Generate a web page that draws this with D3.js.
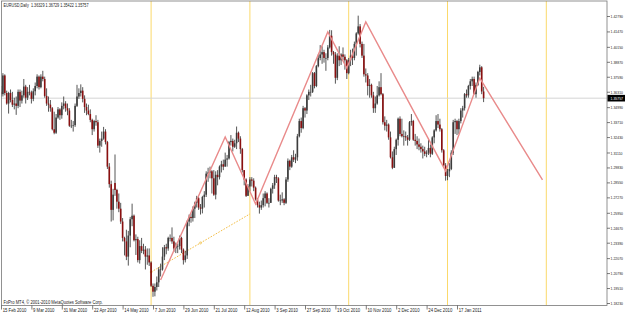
<!DOCTYPE html>
<html>
<head>
<meta charset="utf-8">
<script src="https://cdn.jsdelivr.net/npm/d3@7"></script>
<style>
body { margin: 0; background: #fff; }
svg { display: block; }
text { font-family: "Liberation Sans", Arial, sans-serif; }
</style>
</head>
<body>
<svg width="625" height="314"></svg>
<script>
// EURUSD daily, 15 Feb 2010 .. 4 Feb 2011 (one bar per weekday)
var opens = [
  1.3630,1.3610,1.3770,1.3620,1.3530, 1.3620,1.3560,1.3520,1.3530,1.3510,
  1.3630,1.3555,1.3600,1.3675,1.3580, 1.3630,1.3625,1.3570,1.3635,1.3680,
  1.3760,1.3670,1.3760,1.3740,1.3595, 1.3530,1.3520,1.3490,1.3310,1.3280,
  1.3410,1.3480,1.3430,1.3510,1.3530, 1.3490,1.3470,1.3340,1.3340,1.3345,
  1.3510,1.3590,1.3620,1.3640,1.3570, 1.3500,1.3470,1.3440,1.3390,1.3310,
  1.3380,1.3370,1.3170,1.3210,1.3230, 1.3290,1.3200,1.2990,1.2840,1.2620,
  1.2850,1.2790,1.2690,1.2630,1.2520, 1.2380,1.2350,1.2220,1.2400,1.2540,
  1.2570,1.2360,1.2370,1.2190,1.2310, 1.2270,1.2280,1.2220,1.2230,1.2170,
  1.1970,1.1920,1.1960,1.2000,1.2110, 1.2110,1.2220,1.2300,1.2290,1.2380,
  1.2380,1.2350,1.2290,1.2310,1.2310, 1.2380,1.2280,1.2190,1.2230,1.2520,
  1.2560,1.2550,1.2630,1.2680,1.2720, 1.2640,1.2630,1.2730,1.2750,1.2930,
  1.2940,1.2950,1.2890,1.2750,1.2920, 1.2900,1.2990,1.3010,1.2990,1.3050,
  1.3060,1.3200,1.3210,1.3160,1.3190, 1.3280,1.3230,1.3140,1.2960,1.2880,
  1.2740,1.2820,1.2880,1.2870,1.2810, 1.2710,1.2660,1.2640,1.2660,1.2720,
  1.2760,1.2680,1.2680,1.2800,1.2830, 1.2900,1.2890,1.2700,1.2700,1.2710,
  1.2680,1.2880,1.3040,1.2990,1.3070, 1.3050,1.3070,1.3250,1.3380,1.3320,
  1.3490,1.3470,1.3600,1.3630,1.3630, 1.3790,1.3680,1.3850,1.3920,1.3950,
  1.3970,1.3920,1.3920,1.4010,1.4110, 1.3970,1.3950,1.3750,1.3940,1.3900,
  1.3950,1.3930,1.3900,1.3790,1.3900, 1.3940,1.3920,1.4040,1.4130,1.4190,
  1.4040,1.3940,1.3780,1.3770,1.3680, 1.3690,1.3600,1.3490,1.3530,1.3600,
  1.3670,1.3610,1.3370,1.3340,1.3350, 1.3240,1.3070,1.2980,1.3140,1.3220,
  1.3400,1.3270,1.3250,1.3250,1.3240, 1.3220,1.3370,1.3380,1.3220,1.3210,
  1.3180,1.3160,1.3140,1.3120,1.3100, 1.3110,1.3150,1.3100,1.3240,1.3300,
  1.3380,1.3350,1.3310,1.3130,1.3000, 1.2910,1.2950,1.2970,1.3110,1.3370,
  1.3380,1.3310,1.3380,1.3470,1.3490, 1.3610,1.3600,1.3680,1.3720,1.3740,
  1.3610,1.3690,1.3800,1.3840,1.36329
];
var highs = [
  1.3680,1.3790,1.3780,1.3640,1.3630, 1.3650,1.3630,1.3580,1.3590,1.3650,
  1.3650,1.3640,1.3740,1.3690,1.3670, 1.3690,1.3640,1.3660,1.3710,1.3780,
  1.3770,1.3780,1.3810,1.3760,1.3660, 1.3590,1.3560,1.3500,1.3460,1.3440,
  1.3500,1.3490,1.3540,1.3590,1.3550, 1.3530,1.3490,1.3390,1.3380,1.3530,
  1.3690,1.3660,1.3694,1.3670,1.3600, 1.3530,1.3520,1.3480,1.3400,1.3390,
  1.3430,1.3390,1.3230,1.3290,1.3330, 1.3310,1.3210,1.3020,1.2870,1.2800,
  1.3094,1.2800,1.2760,1.2680,1.2550, 1.2390,1.2450,1.2440,1.2560,1.2673,
  1.2580,1.2410,1.2390,1.2360,1.2380, 1.2330,1.2310,1.2290,1.2290,1.2180,
  1.1990,1.1990,1.2050,1.2130,1.2160, 1.2300,1.2320,1.2330,1.2390,1.2410,
  1.2470,1.2390,1.2340,1.2330,1.2400, 1.2390,1.2290,1.2270,1.2530,1.2580,
  1.2590,1.2650,1.2690,1.2740,1.2730, 1.2670,1.2740,1.2780,1.2950,1.2980,
  1.2990,1.2960,1.2960,1.2950,1.2960, 1.3000,1.3040,1.3050,1.3110,1.3090,
  1.3210,1.3260,1.3230,1.3220,1.3333, 1.3290,1.3250,1.3150,1.2960,1.2890,
  1.2840,1.2900,1.2900,1.2890,1.2820, 1.2720,1.2690,1.2700,1.2760,1.2780,
  1.2770,1.2720,1.2810,1.2850,1.2920, 1.2920,1.2900,1.2750,1.2770,1.2720,
  1.2900,1.3060,1.3050,1.3090,1.3130, 1.3100,1.3270,1.3400,1.3410,1.3510,
  1.3500,1.3610,1.3650,1.3690,1.3800, 1.3800,1.3860,1.3950,1.4030,1.4020,
  1.3990,1.3960,1.4030,1.4160,1.4157, 1.3980,1.3970,1.3960,1.4020,1.3960,
  1.4010,1.3950,1.3910,1.3920,1.3990, 1.4000,1.4060,1.4140,1.4282,1.4210,
  1.4060,1.4040,1.3830,1.3790,1.3740, 1.3700,1.3630,1.3590,1.3680,1.3720,
  1.3790,1.3620,1.3420,1.3390,1.3360, 1.3290,1.3120,1.3160,1.3230,1.3410,
  1.3420,1.3400,1.3300,1.3290,1.3260, 1.3380,1.3440,1.3390,1.3270,1.3250,
  1.3230,1.3190,1.3170,1.3160,1.3130, 1.3230,1.3180,1.3250,1.3310,1.3430,
  1.3440,1.3400,1.3320,1.3140,1.3020, 1.2970,1.3020,1.3130,1.3390,1.3400,
  1.3390,1.3400,1.3490,1.3510,1.3620, 1.3650,1.3690,1.3740,1.3760,1.3760,
  1.3710,1.3810,1.3862,1.3850,1.36729
];
var lows = [
  1.3590,1.3590,1.3600,1.3520,1.3444, 1.3540,1.3500,1.3480,1.3433,1.3490,
  1.3500,1.3530,1.3580,1.3530,1.3560, 1.3600,1.3530,1.3550,1.3600,1.3660,
  1.3650,1.3660,1.3720,1.3580,1.3510, 1.3460,1.3460,1.3300,1.3267,1.3270,
  1.3400,1.3390,1.3400,1.3480,1.3460, 1.3430,1.3330,1.3320,1.3290,1.3330,
  1.3500,1.3570,1.3590,1.3540,1.3450, 1.3430,1.3430,1.3370,1.3260,1.3290,
  1.3340,1.3150,1.3110,1.3160,1.3220, 1.3180,1.2970,1.2810,1.2520,1.2530,
  1.2740,1.2630,1.2600,1.2500,1.2350, 1.2230,1.2190,1.2143,1.2300,1.2480,
  1.2350,1.2234,1.2170,1.2160,1.2250, 1.2240,1.2110,1.2150,1.2140,1.1960,
  1.1876,1.1880,1.1930,1.1960,1.2050, 1.2100,1.2190,1.2240,1.2270,1.2350,
  1.2330,1.2260,1.2250,1.2250,1.2280, 1.2250,1.2152,1.2170,1.2200,1.2480,
  1.2510,1.2520,1.2550,1.2640,1.2620, 1.2580,1.2590,1.2640,1.2730,1.2860,
  1.2890,1.2760,1.2740,1.2710,1.2830, 1.2880,1.2940,1.2960,1.2990,1.2990,
  1.3050,1.3170,1.3120,1.3150,1.3140, 1.3200,1.3100,1.2940,1.2830,1.2730,
  1.2740,1.2780,1.2820,1.2780,1.2700, 1.2640,1.2588,1.2620,1.2640,1.2650,
  1.2670,1.2640,1.2680,1.2760,1.2800, 1.2850,1.2690,1.2660,1.2680,1.2660,
  1.2670,1.2860,1.2960,1.2980,1.3030, 1.3020,1.3040,1.3240,1.3280,1.3310,
  1.3410,1.3440,1.3560,1.3590,1.3620, 1.3660,1.3670,1.3840,1.3900,1.3870,
  1.3880,1.3810,1.3900,1.4000,1.3940, 1.3870,1.3700,1.3730,1.3850,1.3860,
  1.3900,1.3820,1.3740,1.3780,1.3850, 1.3860,1.3900,1.3940,1.4120,1.4010,
  1.3920,1.3760,1.3710,1.3600,1.3580, 1.3580,1.3450,1.3450,1.3520,1.3590,
  1.3600,1.3350,1.3300,1.3290,1.3220, 1.3060,1.2968,1.2980,1.3090,1.3170,
  1.3250,1.3240,1.3170,1.3210,1.3170, 1.3210,1.3340,1.3210,1.3170,1.3140,
  1.3130,1.3110,1.3060,1.3080,1.3070, 1.3090,1.3070,1.3090,1.3190,1.3290,
  1.3320,1.3290,1.3110,1.2990,1.2870, 1.2874,1.2900,1.2960,1.3090,1.3270,
  1.3260,1.3270,1.3360,1.3410,1.3470, 1.3580,1.3580,1.3650,1.3680,1.3610,
  1.3580,1.3680,1.3770,1.3610,1.35422
];
var closes = [
  1.3610,1.3770,1.3620,1.3530,1.3620, 1.3560,1.3520,1.3530,1.3510,1.3630,
  1.3555,1.3600,1.3675,1.3580,1.3630, 1.3625,1.3570,1.3635,1.3680,1.3760,
  1.3670,1.3760,1.3740,1.3595,1.3530, 1.3520,1.3490,1.3310,1.3280,1.3410,
  1.3480,1.3430,1.3510,1.3530,1.3490, 1.3470,1.3340,1.3340,1.3345,1.3510,
  1.3590,1.3620,1.3640,1.3570,1.3500, 1.3470,1.3440,1.3390,1.3310,1.3380,
  1.3370,1.3170,1.3210,1.3230,1.3290, 1.3200,1.2990,1.2840,1.2620,1.2750,
  1.2790,1.2690,1.2630,1.2520,1.2380, 1.2350,1.2220,1.2400,1.2540,1.2570,
  1.2360,1.2370,1.2190,1.2310,1.2270, 1.2280,1.2220,1.2230,1.2170,1.1970,
  1.1920,1.1960,1.2000,1.2110,1.2110, 1.2220,1.2300,1.2290,1.2380,1.2380,
  1.2350,1.2290,1.2310,1.2310,1.2380, 1.2280,1.2190,1.2230,1.2520,1.2560,
  1.2550,1.2630,1.2680,1.2720,1.2640, 1.2630,1.2730,1.2750,1.2930,1.2940,
  1.2950,1.2890,1.2750,1.2920,1.2900, 1.2990,1.3010,1.2990,1.3050,1.3060,
  1.3200,1.3210,1.3160,1.3190,1.3280, 1.3230,1.3140,1.2960,1.2880,1.2740,
  1.2820,1.2880,1.2870,1.2810,1.2710, 1.2660,1.2640,1.2660,1.2720,1.2760,
  1.2680,1.2680,1.2800,1.2830,1.2900, 1.2890,1.2700,1.2700,1.2710,1.2680,
  1.2880,1.3040,1.2990,1.3070,1.3050, 1.3070,1.3250,1.3380,1.3320,1.3490,
  1.3470,1.3600,1.3630,1.3630,1.3790, 1.3680,1.3850,1.3920,1.3950,1.3970,
  1.3920,1.3920,1.4010,1.4110,1.3970, 1.3950,1.3750,1.3940,1.3900,1.3950,
  1.3930,1.3900,1.3790,1.3900,1.3940, 1.3920,1.4040,1.4130,1.4190,1.4040,
  1.3940,1.3780,1.3770,1.3680,1.3690, 1.3600,1.3490,1.3530,1.3600,1.3670,
  1.3610,1.3370,1.3340,1.3350,1.3240, 1.3070,1.2980,1.3140,1.3220,1.3400,
  1.3270,1.3250,1.3250,1.3240,1.3220, 1.3370,1.3380,1.3220,1.3210,1.3180,
  1.3160,1.3140,1.3120,1.3100,1.3110, 1.3150,1.3100,1.3240,1.3300,1.3380,
  1.3350,1.3310,1.3130,1.3000,1.2910, 1.2950,1.2970,1.3110,1.3370,1.3380,
  1.3310,1.3380,1.3470,1.3490,1.3610, 1.3600,1.3680,1.3720,1.3740,1.3610,
  1.3690,1.3800,1.3840,1.3633,1.35757
];

var dateLabels = ["15 Feb 2010", "9 Mar 2010", "31 Mar 2010", "22 Apr 2010", "14 May 2010",
  "7 Jun 2010", "29 Jun 2010", "21 Jul 2010", "12 Aug 2010", "3 Sep 2010", "27 Sep 2010",
  "19 Oct 2010", "10 Nov 2010", "2 Dec 2010", "24 Dec 2010", "17 Jan 2011"];
var labelStep = 16; // bars between date labels
var priceTicks = [1.42790, 1.41470, 1.40150, 1.38870, 1.37590, 1.36310, 1.34990, 1.33710,
  1.32430, 1.31110, 1.29830, 1.28550, 1.27270, 1.25950, 1.24670, 1.23390, 1.22070,
  1.20790, 1.19510, 1.18230];
var lastBar = ["1.36329", "1.36729", "1.35422", "1.35757"];
var bidPrice = 1.35757;

// drawn objects: [bar, price]
var zigzag = [[84, 1.2020], [118, 1.3244], [134, 1.2670], [172, 1.4142], [182, 1.3834],
  [192, 1.4228], [234, 1.2953], [252, 1.3748], [285, 1.2876]];
var dotted = [[79, 1.2088], [105, 1.2337], [131, 1.2585]];
var cycleBars = [79, 131, 183, 235, 287];

var svg = d3.select("svg");
var W = 625;
var pLeft = 1, pRight = 607, pTop = 1, pBottom = 305.5;

var x = d3.scaleLinear().domain([0, 287]).range([1, 1 + 287 * 1.9]);
var y = d3.scaleLinear().domain([1.18230, 1.42790]).range([303, 16]);

svg.append("defs").append("clipPath").attr("id", "plot")
  .append("rect").attr("x", pLeft).attr("y", pTop)
  .attr("width", pRight - pLeft).attr("height", pBottom - pTop);

var plot = svg.append("g").attr("clip-path", "url(#plot)");

// vertical cycle lines
plot.selectAll(".cyc").data(cycleBars).enter().append("line")
  .attr("x1", function(d) { return x(d); }).attr("x2", function(d) { return x(d); })
  .attr("y1", pTop).attr("y2", pBottom)
  .attr("stroke", "#fbd96b").attr("stroke-width", 1);

// bid line
plot.append("line")
  .attr("x1", pLeft).attr("x2", pRight)
  .attr("y1", y(bidPrice)).attr("y2", y(bidPrice))
  .attr("stroke", "#d4d4d4").attr("stroke-width", 1);

// dotted line (under the candles)
var pxLine = d3.line().x(function(d) { return x(d[0]); }).y(function(d) { return y(d[1]); });
plot.append("path")
  .attr("d", pxLine(dotted))
  .attr("fill", "none").attr("stroke", "#f2bd45").attr("stroke-width", 1)
  .attr("stroke-dasharray", "1.6,1.4");
plot.append("circle").attr("cx", x(dotted[0][0])).attr("cy", y(dotted[0][1])).attr("r", 1.3)
  .attr("fill", "#f0c040");
plot.append("circle").attr("cx", x(dotted[1][0])).attr("cy", y(dotted[1][1])).attr("r", 1.1)
  .attr("fill", "none").attr("stroke", "#f0c040").attr("stroke-width", 0.6);

// candles
var idx = d3.range(closes.length);
var candle = plot.selectAll(".c").data(idx).enter().append("g");
candle.append("line")
  .attr("x1", function(i) { return x(i); }).attr("x2", function(i) { return x(i); })
  .attr("y1", function(i) { return y(highs[i]); }).attr("y2", function(i) { return y(lows[i]); })
  .attr("stroke", "#2b2b2b").attr("stroke-width", 0.8);
candle.append("rect")
  .attr("x", function(i) { return x(i) - 0.8; })
  .attr("width", 1.6)
  .attr("y", function(i) { return y(Math.max(opens[i], closes[i])); })
  .attr("height", function(i) { return Math.max(0.6, Math.abs(y(opens[i]) - y(closes[i]))); })
  .attr("fill", function(i) { return closes[i] >= opens[i] ? "#3c3c3c" : "#8b0f0f"; });

// zigzag
plot.append("path")
  .attr("d", pxLine(zigzag))
  .attr("fill", "none").attr("stroke", "#e98b8b").attr("stroke-width", 1.4);

// frame
svg.append("rect").attr("x", pLeft + 0.5).attr("y", pTop)
  .attr("width", pRight - pLeft - 0.5).attr("height", pBottom - pTop)
  .attr("fill", "none").attr("stroke", "#777").attr("stroke-width", 0.8);

function squeeze(sel, k) {
  sel.each(function() {
    var w = this.getComputedTextLength();
    d3.select(this).attr("textLength", w * k).attr("lengthAdjust", "spacingAndGlyphs");
  });
}

// price axis
var yAxis = svg.append("g").attr("transform", "translate(" + pRight + ",0)")
  .call(d3.axisRight(y).tickValues(priceTicks).tickSize(3)
    .tickFormat(d3.format(".5f")));
yAxis.select(".domain").remove();
yAxis.selectAll("line").attr("stroke", "#444").attr("stroke-width", 0.7);
yAxis.selectAll("text").attr("font-size", 4.4).attr("fill", "#222").attr("font-family", null)
  .attr("x", 3.6).attr("dy", "0.35em").call(squeeze, 0.78);

// current price box
svg.append("rect").attr("x", pRight + 0.5).attr("y", y(bidPrice) - 3.3).attr("width", W - pRight)
  .attr("height", 6.6).attr("fill", "#000");
svg.append("text").attr("x", pRight + 3.6).attr("y", y(bidPrice)).attr("dy", "0.35em")
  .attr("font-size", 4.4).attr("fill", "#fff").text(bidPrice.toFixed(5)).call(squeeze, 0.78);

// date axis
var labelBars = dateLabels.map(function(d, i) { return i * labelStep; });
var xAxis = svg.append("g").attr("transform", "translate(0," + pBottom + ")")
  .call(d3.axisBottom(x).tickValues(labelBars).tickSize(4)
    .tickFormat(function(d, i) { return dateLabels[i]; }));
xAxis.select(".domain").remove();
xAxis.selectAll("line").attr("stroke", "#444").attr("stroke-width", 0.7);
xAxis.selectAll("text").attr("font-size", 4.6).attr("fill", "#222").attr("font-family", null)
  .attr("text-anchor", "start").attr("x", 1.2).attr("y", 6.2).attr("dy", null)
  .call(squeeze, 0.92);

// title and copyright
svg.append("text").attr("x", 3.5).attr("y", 7.4).attr("font-size", 4.6).attr("fill", "#222")
  .attr("xml:space", "preserve")
  .text("EURUSD,Daily  " + lastBar.join(" ")).call(squeeze, 0.82);
svg.append("text").attr("x", 3.5).attr("y", 304).attr("font-size", 4.6).attr("fill", "#222")
  .text("FxPro MT4, \u00a9 2001-2010 MetaQuotes Software Corp.").call(squeeze, 0.9);
</script>
</body>
</html>
